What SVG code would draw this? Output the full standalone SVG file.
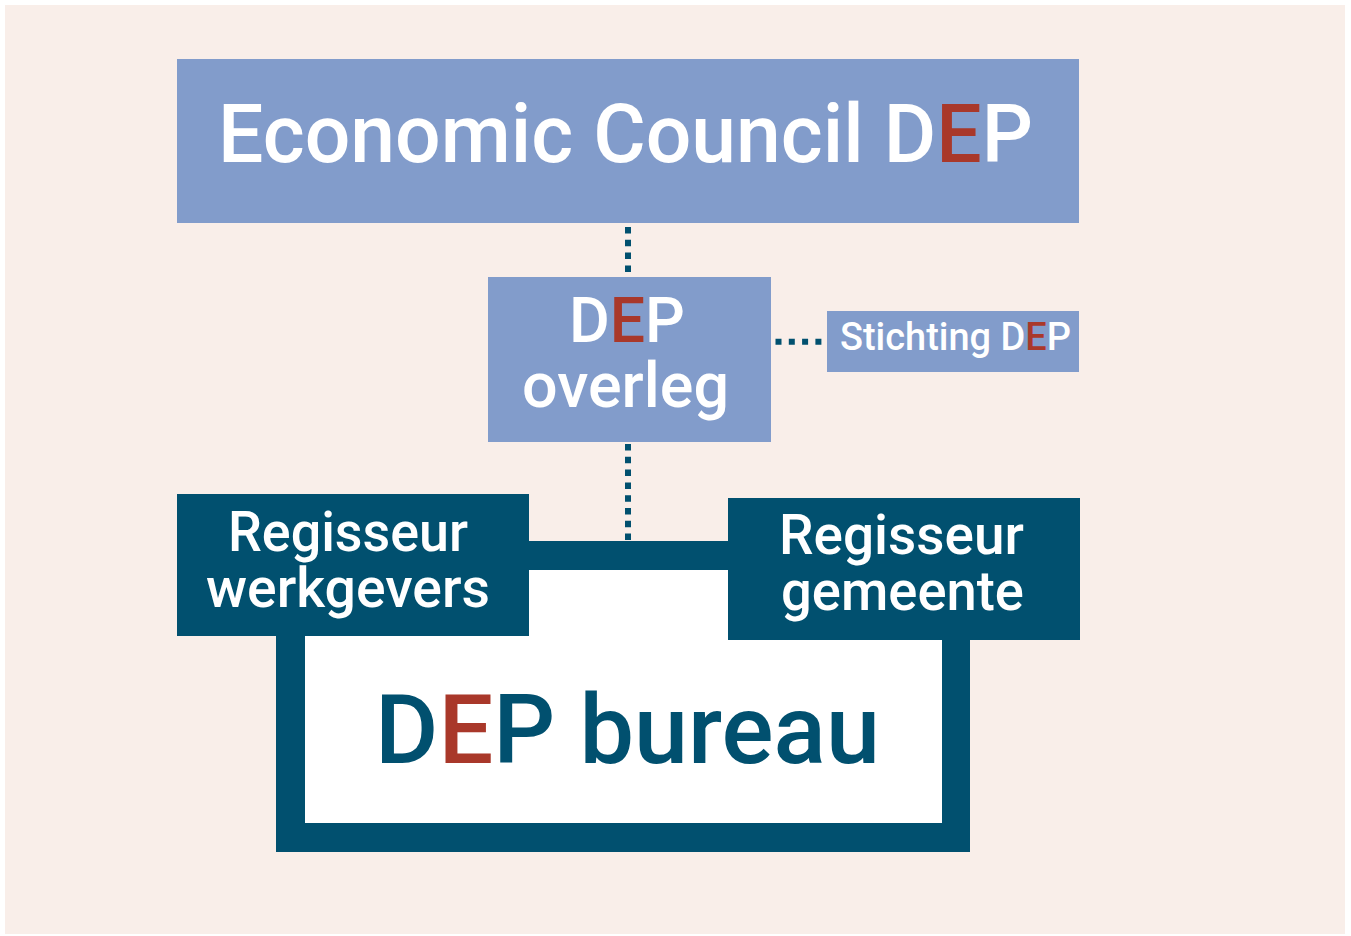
<svg xmlns="http://www.w3.org/2000/svg" width="1351" height="936" viewBox="0 0 1351 936">
<style>
text{font-family:Roboto,"Liberation Sans",sans-serif;font-weight:500}
.lb{fill:#829CCB}
.dk{fill:#01506F}
.w{fill:#ffffff}
.red{fill:#A9382A}
.dot{stroke:#01506F;stroke-width:6;fill:none}
</style>
<rect x="0" y="0" width="1351" height="936" fill="#ffffff"/>
<rect x="5" y="5" width="1340" height="929" fill="#F9EEE9"/>
<g id="connectors">
<line class="dot" x1="628" y1="227" x2="628" y2="273" stroke-dasharray="6.5 6.3"/>
<line class="dot" x1="628" y1="444" x2="628" y2="541" stroke-dasharray="6.5 6.3"/>
<line class="dot" x1="775.5" y1="341.7" x2="822" y2="341.7" stroke-dasharray="6 7.3"/>
</g>
<g id="economic-council">
<rect class="lb" x="177" y="59" width="902" height="164"/>
<text x="218" y="162" font-size="82" textLength="815" lengthAdjust="spacingAndGlyphs" class="w">Economic Council D<tspan class="red">E</tspan>P</text>
</g>
<g id="dep-overleg">
<rect class="lb" x="488" y="277" width="283" height="165"/>
<text x="569" y="342" font-size="63" textLength="116" lengthAdjust="spacingAndGlyphs" class="w">D<tspan class="red">E</tspan>P</text>
<text x="522" y="407" font-size="63" textLength="207" lengthAdjust="spacingAndGlyphs" class="w">overleg</text>
</g>
<g id="stichting-dep">
<rect class="lb" x="827" y="311" width="252" height="61"/>
<text x="840" y="350" font-size="38" textLength="231" lengthAdjust="spacingAndGlyphs" class="w">Stichting D<tspan class="red">E</tspan>P</text>
</g>
<g id="dep-bureau">
<path class="dk" fill-rule="evenodd" d="M276 541H970V852H276Z M305 570V823H942V570Z"/>
<rect x="305" y="570" width="637" height="253" fill="#ffffff"/>
<text x="375" y="763" font-size="96" textLength="505" lengthAdjust="spacingAndGlyphs" class="dk">D<tspan class="red">E</tspan>P bureau</text>
</g>
<g id="regisseur-werkgevers">
<rect class="dk" x="177" y="494" width="352" height="142"/>
<text x="228" y="551" font-size="55" textLength="240" lengthAdjust="spacingAndGlyphs" class="w">Regisseur</text>
<text x="206" y="607" font-size="55" textLength="284" lengthAdjust="spacingAndGlyphs" class="w">werkgevers</text>
</g>
<g id="regisseur-gemeente">
<rect class="dk" x="728" y="498" width="352" height="142"/>
<text x="779" y="554" font-size="55" textLength="245" lengthAdjust="spacingAndGlyphs" class="w">Regisseur</text>
<text x="781" y="610" font-size="55" textLength="243" lengthAdjust="spacingAndGlyphs" class="w">gemeente</text>
</g>
</svg>
